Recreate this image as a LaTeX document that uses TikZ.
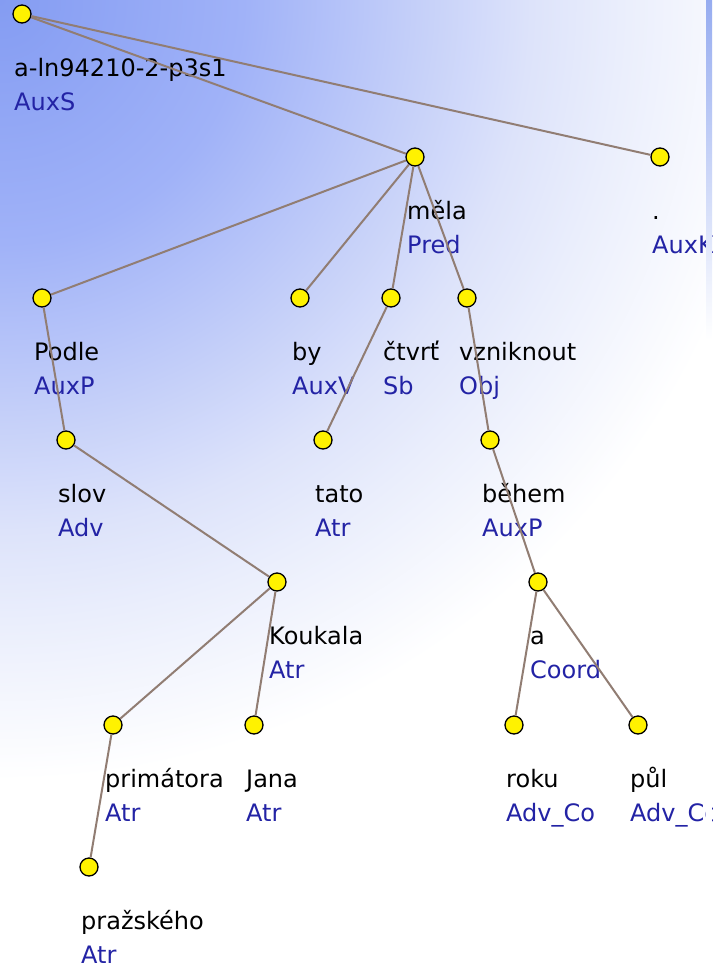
\documentclass[tikz,border=0pt]{standalone}
\usepackage{fontspec}
\setmainfont{DejaVu Sans}
\definecolor{bgA}{RGB}{132,156,242}
\definecolor{bgB}{RGB}{160,178,248}
\definecolor{bgC}{RGB}{221,227,250}
\definecolor{bgD}{RGB}{234,238,252}
\definecolor{edgecol}{RGB}{145,125,115}
\definecolor{funcblue}{RGB}{35,35,165}
\definecolor{stripblue}{RGB}{150,172,240}
\pgfdeclareradialshading{bgrad}{\pgfpoint{0bp}{0bp}}{color(0bp)=(bgA); color(7.6bp)=(bgB); color(16.6bp)=(bgC); color(19.4bp)=(bgD); color(24.4bp)=(white); color(50bp)=(white)}
\tikzset{
  tdot/.style={circle, fill=yellow, draw=black, line width=1.3pt, minimum size=18pt, inner sep=0pt},
  tword/.style={anchor=base west, inner sep=0pt, text=black, font=\fontsize{24}{28}\selectfont},
  tfunc/.style={anchor=base west, inner sep=0pt, text=funcblue, font=\fontsize{24}{28}\selectfont},
  tedge/.style={draw=edgecol, line width=2pt}
}
\newcommand\treenode[5]{%
  \node[tdot] (#1) at (#2,#3) {};
  \node[tword] (#1w) at (#2-8,#3+62) {#4};
  \node[tfunc] (#1f) at (#2-8,#3+96) {#5};
}
\begin{document}
\begin{tikzpicture}[x=1pt,y=-1pt]
\useasboundingbox (0,0) rectangle (712,966);
\begin{scope}
\clip (0,0) rectangle (712,966);
\fill[white] (0,0) rectangle (712,966);
\shade[shading=bgrad] (0,0) circle (800);
\treenode{root}{22}{14}{a-ln94210-2-p3s1}{AuxS}
\treenode{mela}{415}{157}{měla}{Pred}
\treenode{dot}{660}{157}{.}{AuxK}
\treenode{podle}{42}{298}{Podle}{AuxP}
\treenode{by}{300}{298}{by}{AuxV}
\treenode{ctvrt}{391}{298}{čtvrť}{Sb}
\treenode{vzn}{467}{298}{vzniknout}{Obj}
\treenode{slov}{66}{440}{slov}{Adv}
\treenode{tato}{323}{440}{tato}{Atr}
\treenode{behem}{490}{440}{během}{AuxP}
\treenode{kouk}{277}{582}{Koukala}{Atr}
\treenode{a}{538}{582}{a}{Coord}
\treenode{prim}{113}{725}{primátora}{Atr}
\treenode{jana}{254}{725}{Jana}{Atr}
\treenode{roku}{514}{725}{roku}{Adv\_Co}
\treenode{pul}{638}{725}{půl}{Adv\_Co}
\treenode{praz}{89}{867}{pražského}{Atr}
\draw[tedge] (root) -- (mela);
\draw[tedge] (root) -- (dot);
\draw[tedge] (mela) -- (podle);
\draw[tedge] (mela) -- (by);
\draw[tedge] (mela) -- (ctvrt);
\draw[tedge] (mela) -- (vzn);
\draw[tedge] (podle) -- (slov);
\draw[tedge] (slov) -- (kouk);
\draw[tedge] (kouk) -- (prim);
\draw[tedge] (kouk) -- (jana);
\draw[tedge] (prim) -- (praz);
\draw[tedge] (ctvrt) -- (tato);
\draw[tedge] (vzn) -- (behem);
\draw[tedge] (behem) -- (a);
\draw[tedge] (a) -- (roku);
\draw[tedge] (a) -- (pul);
% right strip
\fill[white] (706,0) rectangle (712,966);
\shade[top color=stripblue, bottom color=white] (706,0) rectangle (712,340);
\end{scope}
\end{tikzpicture}
\end{document}
